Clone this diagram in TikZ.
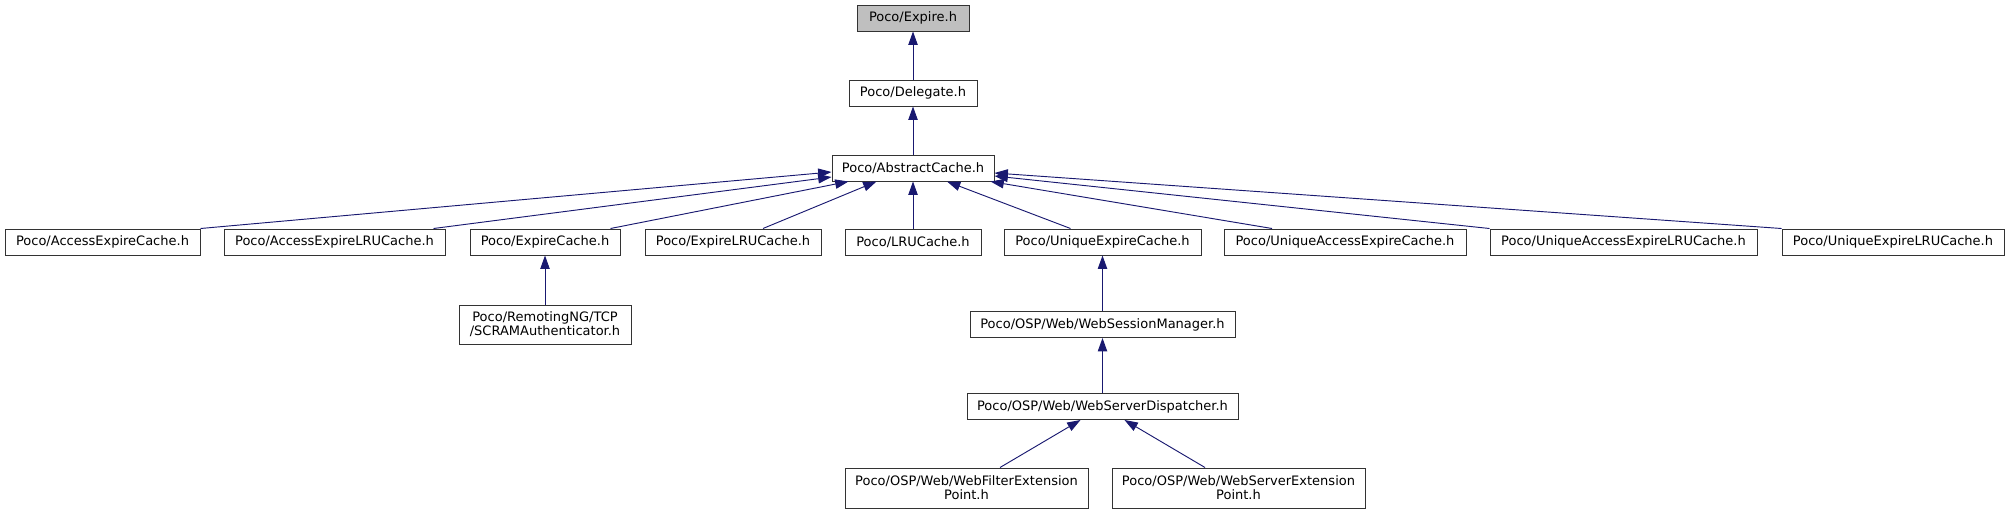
\documentclass[tikz,border=0pt]{standalone}
\usepackage{fontspec}
\setmainfont{DejaVu Sans}
\usetikzlibrary{arrows.meta,calc}
\definecolor{edgeblue}{HTML}{191970}
\definecolor{rootgray}{HTML}{BFBFBF}
\definecolor{boxline}{HTML}{333333}
\tikzset{
  filebox/.style={draw=boxline, line width=0.75pt, fill=white, inner sep=0pt,
    minimum height=19.5pt, align=center, font=\fontsize{9.75}{10.5}\selectfont},
  rootbox/.style={filebox, fill=rootgray},
  dep/.style={draw=edgeblue, line width=0.7pt, -{Triangle[length=10pt,width=7pt]}},
}
\begin{document}
\begin{tikzpicture}[x=0.75pt,y=-0.75pt]
\useasboundingbox (0,0) rectangle (2010,515);
% top chain
\node[rootbox, minimum width=84pt] (expire) at (913,18) {Poco/Expire.h};
\node[filebox, minimum width=96pt] (deleg) at (913,93) {Poco/Delegate.h};
\node[filebox, minimum width=121.5pt] (abs) at (913,168) {Poco/AbstractCache.h};
% row 2
\node[filebox, minimum width=146.25pt] (aec) at (102.5,242) {Poco/AccessExpireCache.h};
\node[filebox, minimum width=165.75pt] (aelru) at (334.5,242) {Poco/AccessExpireLRUCache.h};
\node[filebox, minimum width=112.5pt] (ec) at (545,242) {Poco/ExpireCache.h};
\node[filebox, minimum width=132pt] (elru) at (733,242) {Poco/ExpireLRUCache.h};
\node[filebox, minimum width=102pt] (lru) at (913,242) {Poco/LRUCache.h};
\node[filebox, minimum width=147.75pt] (uec) at (1102.5,242) {Poco/UniqueExpireCache.h};
\node[filebox, minimum width=181.5pt] (uaec) at (1345,242) {Poco/UniqueAccessExpireCache.h};
\node[filebox, minimum width=200.25pt] (uaelru) at (1623.5,242) {Poco/UniqueAccessExpireLRUCache.h};
\node[filebox, minimum width=166.5pt] (uelru) at (1893,242) {Poco/UniqueExpireLRUCache.h};
% lower rows
\node[filebox, minimum width=129pt, minimum height=29.25pt] (scram) at (545,324.5) {Poco/RemotingNG/TCP\\/SCRAMAuthenticator.h};
\node[filebox, minimum width=198.75pt] (wsm) at (1102.5,324.5) {Poco/OSP/Web/WebSessionManager.h};
\node[filebox, minimum width=203.25pt] (wsd) at (1102.5,406.5) {Poco/OSP/Web/WebServerDispatcher.h};
\node[filebox, minimum width=182.25pt, minimum height=30pt] (wfep) at (966.5,488) {Poco/OSP/Web/WebFilterExtension\\Point.h};
\node[filebox, minimum width=189.75pt, minimum height=30pt] (wsep) at (1238.5,488) {Poco/OSP/Web/WebServerExtension\\Point.h};
% edges
\draw[dep] (deleg) -- (expire);
\draw[dep] (abs) -- (deleg);
\draw[dep] (aec.north east) -- ($(abs.west)+(0,4)$);
\draw[dep] ($(aelru.north east)+(-12,0)$) -- ($(abs.west)+(0,9)$);
\draw[dep] ($(ec.north east)+(-10,0)$) -- ($(abs.south west)+(17,0)$);
\draw[dep] ($(elru.north)+(30,0)$) -- ($(abs.south west)+(45,0)$);
\draw[dep] (lru) -- (abs);
\draw[dep] ($(uec.north)+(-32,0)$) -- ($(abs.south)+(34,0)$);
\draw[dep] ($(uaec.north)+(-73,0)$) -- ($(abs.south east)+(-4,0)$);
\draw[dep] (uaelru.north west) -- ($(abs.east)+(0,8)$);
\draw[dep] (uelru.north west) -- ($(abs.east)+(0,5)$);
\draw[dep] (scram) -- (ec);
\draw[dep] (wsm) -- (uec);
\draw[dep] (wsd) -- (wsm);
\draw[dep] ($(wfep.north)+(33.5,0)$) -- ($(wsd.south)+(-22,0)$);
\draw[dep] ($(wsep.north)+(-33.5,0)$) -- ($(wsd.south)+(22,0)$);
\end{tikzpicture}
\end{document}
